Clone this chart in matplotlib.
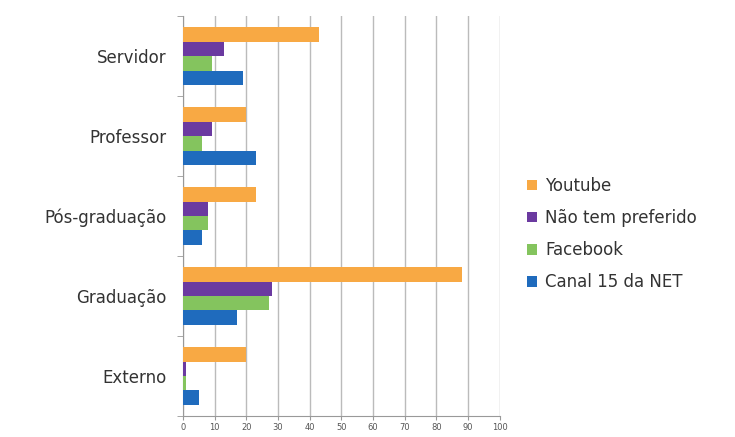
import matplotlib.pyplot as plt
import numpy as np

categorias = ['Externo', 'Graduação', 'Pós-graduação', 'Professor', 'Servidor']
series = ['Youtube', 'Não tem preferido', 'Facebook', 'Canal 15 da NET']
youtube = [20, 88, 23, 20, 43]
nao_tem = [1, 28, 8, 9, 13]
facebook = [1, 27, 8, 6, 9]
canal15 = [5, 17, 6, 23, 19]
cores = ['#F8A944', '#6B3AA0', '#84C45E', '#1F6BBD']

valores = [youtube, nao_tem, facebook, canal15]

fig = plt.figure(figsize=(7.35, 4.37), dpi=100)
ax = fig.add_axes([0.249, 0.048, 0.431, 0.915])

y = np.arange(len(categorias))
h = 0.18
for i, (nome, vals, cor) in enumerate(zip(series, valores, cores)):
    ax.barh(y + (1.5 - i) * h, vals, height=h, color=cor, label=nome, zorder=3)

ax.set_xlim(0, 100)
ax.set_ylim(-0.5, len(categorias) - 0.5)
ax.set_xticks(np.arange(0, 101, 10))
ax.tick_params(axis='x', labelsize=6, colors='#555555', length=3, color='#999999', pad=2)
ax.set_yticks(y)
ax.set_yticklabels(categorias, fontsize=12, color='#333333')
ax.set_yticks(np.arange(-0.5, len(categorias)), minor=True)
ax.tick_params(axis='y', which='major', length=0, pad=12)
ax.tick_params(axis='y', which='minor', length=4, color='#999999')
ax.grid(axis='x', color='#BBBBBB', linewidth=1, zorder=0)
for s in ['top', 'right']:
    ax.spines[s].set_visible(False)
for s in ['left', 'bottom']:
    ax.spines[s].set_color('#999999')

ax.legend(loc='center left', bbox_to_anchor=(1.04, 0.455), frameon=False,
          fontsize=12, handlelength=0.6, handleheight=0.6, handletextpad=0.45,
          labelspacing=0.85, labelcolor='#333333')

fig.savefig('out.png', dpi=100)
